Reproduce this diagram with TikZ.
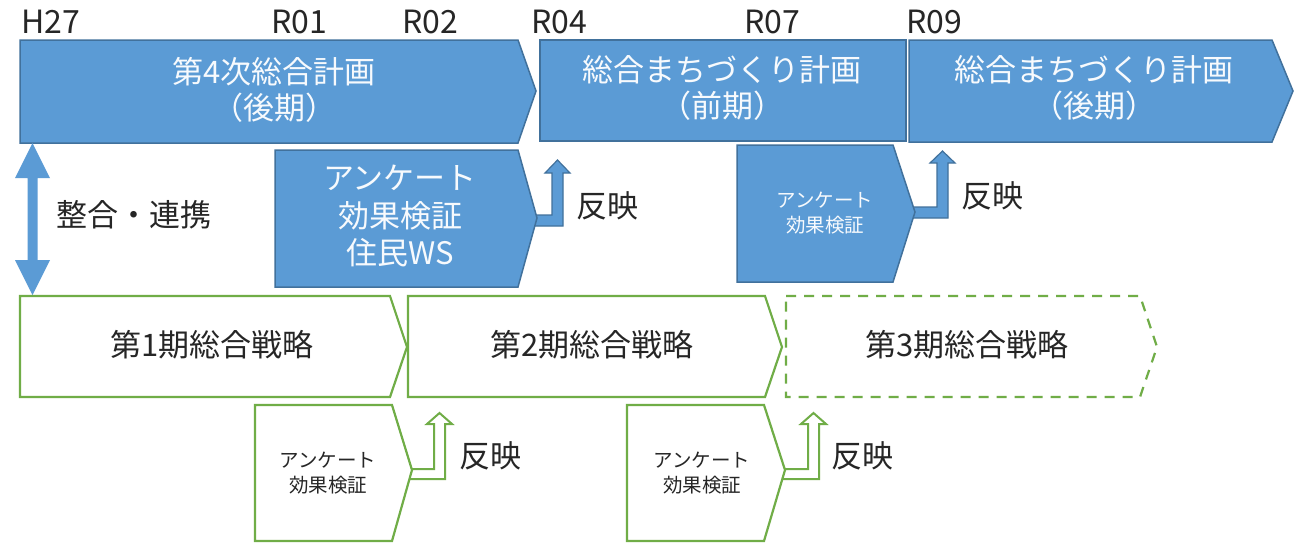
\documentclass[tikz,border=0pt]{standalone}
\usepackage{fontspec}
\setmainfont{Noto Sans CJK JP}
\definecolor{bfill}{HTML}{5B9BD5}
\definecolor{bline}{HTML}{41719C}
\definecolor{gline}{HTML}{70AD47}
\definecolor{txt}{HTML}{262626}
\tikzset{
  bluebox/.style={fill=bfill,draw=bline,line width=1.5pt,line join=miter},
  greenbox/.style={fill=white,draw=gline,line width=2.2pt,line join=miter},
  greendash/.style={greenbox,dash pattern=on 10pt off 8pt},
  yearlbl/.style={anchor=west,text=txt,font=\fontsize{32}{36}\selectfont,inner sep=0pt},
  bigw/.style={text=white!95!bfill,font=\fontsize{31}{36}\selectfont,align=center,inner sep=0pt},
  smallw/.style={text=white!95!bfill,font=\fontsize{19.5}{25}\selectfont,align=center,inner sep=0pt},
  bigk/.style={text=txt,font=\fontsize{31}{36}\selectfont,align=center,inner sep=0pt},
  smallk/.style={text=txt,font=\fontsize{19.5}{25}\selectfont,align=center,inner sep=0pt},
}
\begin{document}
\begin{tikzpicture}[x=1pt,y=-1pt]
\useasboundingbox[fill=white] (0,0) rectangle (1304,542);
% year labels
\node[yearlbl] (h27) at (21,22) {H27};
\node[yearlbl] (r01) at (271,22) {R01};
\node[yearlbl] (r02) at (402,22) {R02};
\node[yearlbl] (r04) at (531,22) {R04};
\node[yearlbl] (r07) at (744,22) {R07};
\node[yearlbl] (r09) at (906,22) {R09};
% top plans
\draw[bluebox] (20,40) -- (518,40) -- (536,91) -- (518,143) -- (20,143) -- cycle;
\draw[bluebox] (540,40) rectangle (906,141);
\draw[bluebox] (909,40) -- (1272,40) -- (1293,91) -- (1272,142) -- (909,142) -- cycle;
\node[bigw] (p1) at (274,90) {第4次総合計画\\（後期）};
\node[bigw] (p2) at (722,88) {総合まちづくり計画\\（前期）};
\node[bigw] (p3) at (1094,88) {総合まちづくり計画\\（後期）};
% blue bent arrows (drawn before boxes)
\draw[bluebox,line width=1.2pt] (528,215) -- (552,215) -- (552,173) -- (545,173) -- (557.5,160) -- (570,173) -- (563,173) -- (563,226) -- (528,226) -- cycle;
\draw[bluebox,line width=1.2pt] (905,207) -- (937,207) -- (937,163) -- (930,163) -- (942.5,151) -- (955,163) -- (948,163) -- (948,218) -- (905,218) -- cycle;
% survey boxes (blue)
\draw[bluebox] (275,150) -- (518,150) -- (537,218) -- (518,287) -- (275,287) -- cycle;
\node[bigw,font=\fontsize{31}{37.5}\selectfont] (sa) at (400,216) {アンケート\\効果検証\\住民WS};
\draw[bluebox] (737,145) -- (893,145) -- (915,212) -- (893,282) -- (737,282) -- cycle;
\node[smallw] (sb) at (825,213) {アンケート\\効果検証};
\node[bigk] (ha) at (607,206) {反映};
\node[bigk] (hb) at (992,196) {反映};
% double arrow
\fill[bfill] (32.5,143) -- (50,178) -- (37.5,178) -- (37.5,260) -- (50,260) -- (32.5,295) -- (15,260) -- (27.5,260) -- (27.5,178) -- (15,178) -- cycle;
\node[bigk] (sei) at (134,215) {整合・連携};
% strategies
\draw[greenbox] (20,296) -- (390,296) -- (407,347) -- (390,397) -- (20,397) -- cycle;
\draw[greenbox] (408,296) -- (765,296) -- (782,347) -- (765,397) -- (408,397) -- cycle;
\draw[greendash] (786,296) -- (1140,296) -- (1157,347) -- (1140,397) -- (786,397) -- cycle;
\node[bigk] (s1) at (212,345) {第1期総合戦略};
\node[bigk] (s2) at (592,345) {第2期総合戦略};
\node[bigk] (s3) at (967,345) {第3期総合戦略};
% green bent arrows
\draw[greenbox,line width=2pt] (400,469) -- (434,469) -- (434,424) -- (427,424) -- (439.5,413) -- (452,424) -- (445,424) -- (445,479) -- (400,479) -- cycle;
\draw[greenbox,line width=2pt] (775,469) -- (808,469) -- (808,424) -- (801,424) -- (813.5,413) -- (826,424) -- (819,424) -- (819,479) -- (775,479) -- cycle;
% green survey boxes
\draw[greenbox] (255,405) -- (392,405) -- (412,470) -- (392,541) -- (255,541) -- cycle;
\draw[greenbox] (627,405) -- (764,405) -- (785,470) -- (764,541) -- (627,541) -- cycle;
\node[smallk] (sc) at (328,473) {アンケート\\効果検証};
\node[smallk] (sd) at (702,473) {アンケート\\効果検証};
\node[bigk] (hc) at (490,456) {反映};
\node[bigk] (hd) at (862,456) {反映};
\end{tikzpicture}
\end{document}
